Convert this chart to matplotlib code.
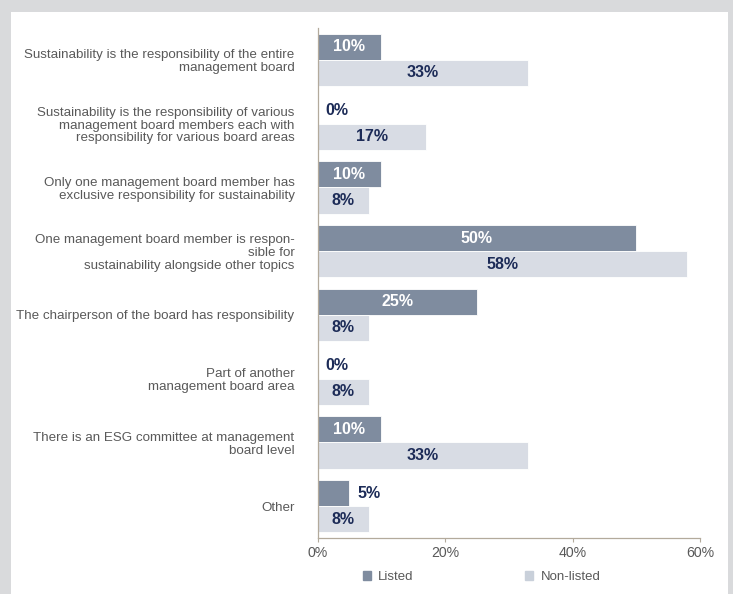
import numpy as np
import matplotlib
matplotlib.use("Agg")
from matplotlib import pyplot as plt
from matplotlib.patches import Rectangle

plt.rcParams['font.family'] = ['Liberation Sans', 'DejaVu Sans']

categories = [
    "Sustainability is the responsibility of the entire\nmanagement board",
    "Sustainability is the responsibility of various\nmanagement board members each with\nresponsibility for various board areas",
    "Only one management board member has\nexclusive responsibility for sustainability",
    "One management board member is respon-\nsible for\nsustainability alongside other topics",
    "The chairperson of the board has responsibility",
    "Part of another\nmanagement board area",
    "There is an ESG committee at management\nboard level",
    "Other",
]
listed = [10, 0, 10, 50, 25, 0, 10, 5]
non_listed = [33, 17, 8, 58, 8, 8, 33, 8]
xticks = [0, 20, 40, 60]

C_LISTED = '#7f8c9f'
C_NONLISTED = '#d8dce4'
C_NAVY = '#1c2b57'
C_TEXT = '#595959'
C_SPINE = '#b3aa9c'

fig = plt.figure(figsize=(7.33, 5.94), dpi=100)
fig.patch.set_facecolor('#d9dadc')
# white panel behind everything
fig.patches.append(Rectangle((11 / 733, 0), (728 - 11) / 733, 1 - 12 / 594,
                             transform=fig.transFigure, facecolor='white',
                             edgecolor='none', zorder=-10))

ax = fig.add_axes([317.5 / 733, 1 - 538 / 594, (700 - 317.5) / 733, (538 - 28) / 594])
ax.set_facecolor('none')

y = np.arange(len(categories))
h = 0.41
ax.barh(y - h / 2, listed, height=h, color=C_LISTED, edgecolor='white', linewidth=0.6)
ax.barh(y + h / 2, non_listed, height=h, color=C_NONLISTED, edgecolor='white', linewidth=0.6)

for yi, v in zip(y, listed):
    if v >= 10:
        ax.text(v / 2, yi - h / 2, f"{v}%", ha='center', va='center',
                color='white', fontsize=11.5, fontweight='bold')
    else:
        ax.annotate(f"{v}%", (v, yi - h / 2), xytext=(6, 0), textcoords='offset points',
                    ha='left', va='center', color=C_NAVY, fontsize=11.5, fontweight='bold')
for yi, v in zip(y, non_listed):
    ax.text(v / 2, yi + h / 2, f"{v}%", ha='center', va='center',
            color=C_NAVY, fontsize=11.5, fontweight='bold')

ax.set_ylim(len(categories) - 0.5, -0.5)
ax.set_xlim(0, 60)
ax.set_yticks(y)
ax.set_yticklabels(categories, fontsize=9.65, color=C_TEXT, linespacing=1.1)
ax.tick_params(axis='y', length=0, pad=16.5)
ax.set_xticks(xticks)
ax.set_xticklabels([f"{t}%" for t in xticks], fontsize=10.2, color=C_TEXT)
ax.tick_params(axis='x', direction='out', length=3, color=C_SPINE, pad=3)

for s in ['top', 'right']:
    ax.spines[s].set_visible(False)
for s in ['left', 'bottom']:
    ax.spines[s].set_color(C_SPINE)
    ax.spines[s].set_linewidth(0.9)

# legend
handles = [Rectangle((0, 0), 1, 1, color=C_LISTED),
           Rectangle((0, 0), 1, 1, color='#c9d0da')]
fig.legend(handles, ['Listed', 'Non-listed'], loc='center',
           bbox_to_anchor=(0.657, 1 - 577 / 594), ncol=2, frameon=False,
           fontsize=9.5, labelcolor=C_TEXT, handlelength=0.6, handleheight=0.6,
           handletextpad=0.55, columnspacing=8.5)

fig.savefig('out.png', dpi=100, facecolor=fig.get_facecolor())
